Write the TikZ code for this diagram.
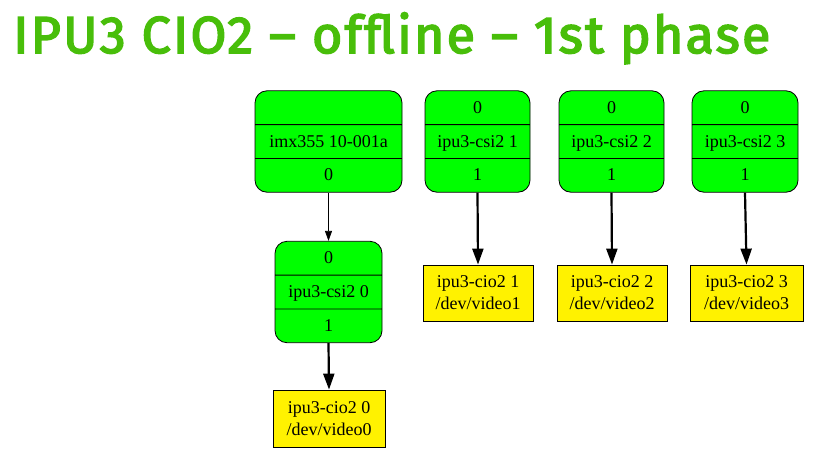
\documentclass[tikz,border=0pt]{standalone}
\usepackage{fontspec}
\setmainfont{Liberation Serif}
\newfontfamily\titlefont{Fira Sans}[LetterSpace=4.2, FakeBold=3]
\usetikzlibrary{
  arrows.meta,
  shapes.multipart
  }
\definecolor{titlegreen}{RGB}{72,190,10}
\newcommand{\cell}[1]{\rule[-11pt]{0pt}{33pt}#1}

\begin{document}
\begin{tikzpicture}[x=1pt, y=-1pt]
    \useasboundingbox (0,0) rectangle (819,453);
    % titolo
    \node [anchor=base west, inner sep=0pt, text=titlegreen, font=\titlefont\fontsize{52}{60}\selectfont] (titolo) at (13,53) {IPU3 CIO2 – offline – 1st phase};

    \tikzset{entity/.style = {draw, line width=0.8pt, fill=green, rounded corners=12pt, rectangle split, rectangle split parts=3, inner xsep=0pt, inner ysep=0pt, font=\fontsize{18}{22}\selectfont}}
    \tikzset{video/.style = {draw, line width=0.8pt, fill=yellow, align=center, inner xsep=0pt, inner ysep=6pt, font=\fontsize{18}{22}\selectfont}}
    \tikzset{thin link/.style = {line width=0.8pt, -{Triangle[length=10pt, width=7pt]}}}
    \tikzset{thick link/.style = {line width=2.2pt, -{Triangle[length=16pt, width=11pt]}}}

    % sensore
    \node [entity, minimum width=147pt] (nimx) at (328.5,141.5) {\cell{}\nodepart{two}\cell{imx355 10-001a}\nodepart{three}\cell{0}};
    % csi2
    \node [entity, minimum width=107pt] (ncsi0) at (328.5,292) {\cell{0}\nodepart{two}\cell{ipu3-csi2 0}\nodepart{three}\cell{1}};
    \node [entity, minimum width=105pt] (ncsi1) at (477.5,141.5) {\cell{0}\nodepart{two}\cell{ipu3-csi2 1}\nodepart{three}\cell{1}};
    \node [entity, minimum width=105pt] (ncsi2) at (611.5,141.5) {\cell{0}\nodepart{two}\cell{ipu3-csi2 2}\nodepart{three}\cell{1}};
    \node [entity, minimum width=106pt] (ncsi3) at (745,141.5) {\cell{0}\nodepart{two}\cell{ipu3-csi2 3}\nodepart{three}\cell{1}};
    % cio2
    \node [video, minimum width=112pt, minimum height=57pt] (ncio0) at (329,418.5) {ipu3-cio2 0\\/dev/video0};
    \node [video, minimum width=110pt, minimum height=56pt] (ncio1) at (478,293) {ipu3-cio2 1\\/dev/video1};
    \node [video, minimum width=110pt, minimum height=56pt] (ncio2) at (612,293) {ipu3-cio2 2\\/dev/video2};
    \node [video, minimum width=113pt, minimum height=56pt] (ncio3) at (746.5,293) {ipu3-cio2 3\\/dev/video3};

    \draw [thin link] (nimx.south) -- (ncsi0.north);
    \draw [thick link] (ncsi0.south) -- (ncio0.north);
    \draw [thick link] (ncsi1.south) -- (ncio1.north);
    \draw [thick link] (ncsi2.south) -- (ncio2.north);
    \draw [thick link] (ncsi3.south) -- (ncio3.north);
\end{tikzpicture}
\end{document}
